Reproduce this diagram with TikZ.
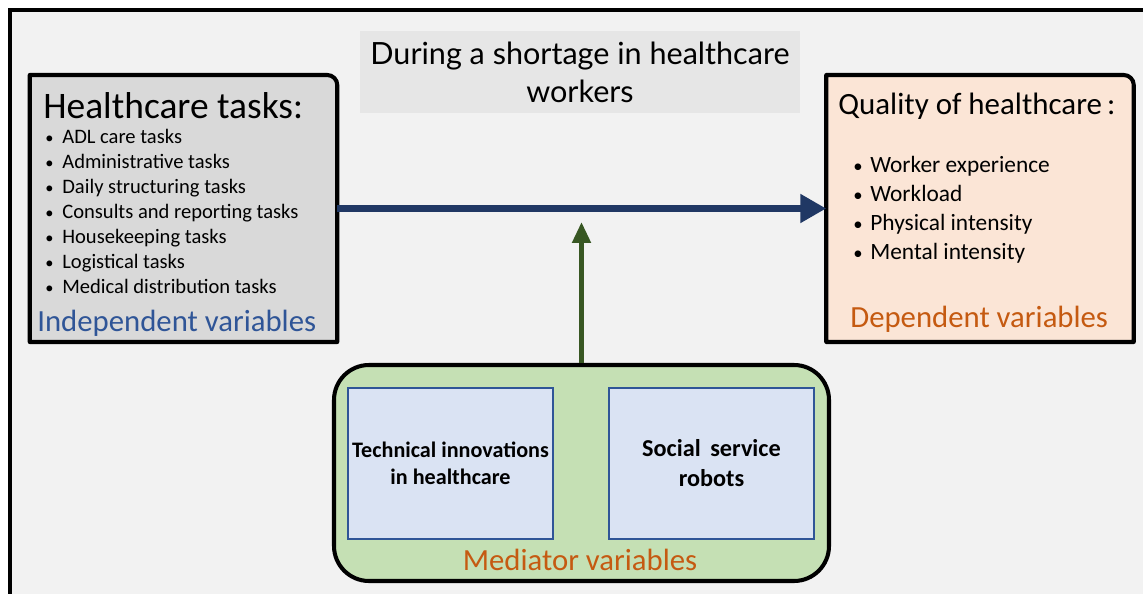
\documentclass[tikz,border=0pt]{standalone}
\usepackage{fontspec}
\setmainfont{Carlito}
\newfontfamily\titlefont{Lato}
\usetikzlibrary{arrows.meta}

\definecolor{bggray}{HTML}{F2F2F2}
\definecolor{taskgray}{HTML}{D9D9D9}
\definecolor{titlegray}{HTML}{E6E6E6}
\definecolor{qualpink}{HTML}{FBE5D6}
\definecolor{medgreen}{HTML}{C5E0B4}
\definecolor{innerfill}{HTML}{DAE3F3}
\definecolor{innerblue}{HTML}{2F5597}
\definecolor{varorange}{HTML}{C55A11}
\definecolor{arrowblue}{HTML}{203864}
\definecolor{arrowgreen}{HTML}{385723}

\newcommand{\bul}{\makebox[0.34cm][l]{\scalebox{0.8}{\textbullet}}}

\tikzset{
  panel/.style={rectangle,inner sep=0pt,outer sep=0pt,minimum width=6.15cm,minimum height=5.34cm},
  panelline/.style={line width=2.3pt,line join=round},
  tool/.style={rectangle,draw=innerblue,line width=1pt,fill=innerfill,minimum width=4.1cm,minimum height=3.02cm,align=center,inner sep=1pt},
  item/.style={anchor=west,inner sep=0pt},
  listitem/.style={anchor=base west,inner sep=0pt},
}

\begin{document}
\begin{tikzpicture}
\clip (0,0) rectangle (22.86,11.86);
\fill[white] (0,0) rectangle (22.86,11.86);
\draw[line width=2.3pt,fill=bggray] (0.2,-1) rectangle (24,11.66);

% context
\node[rectangle,fill=titlegray,minimum width=8.8cm,minimum height=1.64cm,align=center,inner sep=0pt,
  font=\titlefont\fontsize{17.4}{21.5}\selectfont] (T) at (11.6,10.42) {During a shortage in healthcare\\workers};

% independent variables
\node[panel] (L) at (3.67,7.69) {};
\filldraw[panelline,fill=taskgray] (L.south west) -- (L.north west) -- ([xshift=-0.2cm]L.north east)
  arc[start angle=90,end angle=0,radius=0.2cm] -- (L.south east) -- cycle;
\node[item,font=\fontsize{21.3}{25}\selectfont] (Lhead) at (0.86,9.74) {Healthcare tasks:};
\foreach \t [count=\i] in {ADL care tasks,Administrative tasks,Daily structuring tasks,Consults and reporting tasks,Housekeeping tasks,Logistical tasks,Medical distribution tasks}
  \node[listitem,font=\fontsize{11.7}{14}\selectfont] (Li\i) at (0.9,{9.48-0.5*\i}) {\bul\t};
\node[item,text=innerblue,font=\fontsize{17.5}{21}\selectfont] (Lfoot) at (0.74,5.4) {Independent variables};

% dependent variables
\node[panel] (R) at (19.6,7.69) {};
\filldraw[panelline,fill=qualpink] (R.south west) -- (R.north west) -- ([xshift=-0.2cm]R.north east)
  arc[start angle=90,end angle=0,radius=0.2cm] -- (R.south east) -- cycle;
\node[item,font=\fontsize{17.6}{21}\selectfont] (Rhead) at (16.76,9.74) {Quality of healthcare\,:};
\foreach \t [count=\i] in {Worker experience,Workload,Physical intensity,Mental intensity}
  \node[listitem,font=\fontsize{13.3}{16}\selectfont] (Ri\i) at (17.06,{8.98-0.58*\i}) {\bul\t};
\node[item,text=varorange,font=\fontsize{17.5}{21}\selectfont] (Rfoot) at (17.0,5.48) {Dependent variables};

% mediator variables
\node[rectangle,draw,line width=2.3pt,fill=medgreen,rounded corners=0.7cm,minimum width=9.9cm,minimum height=4.32cm,inner sep=0pt] (M) at (11.63,2.4) {};
\node[tool,font=\bfseries\fontsize{12.6}{15.3}\selectfont] (M1) at (9.01,2.59) {Technical innovations\\in healthcare};
\node[tool,font=\bfseries\fontsize{13.8}{17}\selectfont] (M2) at (14.23,2.59) {Social\, service\\robots};
\node[text=varorange,inner sep=0pt,font=\fontsize{17.5}{21}\selectfont] (Mfoot) at (11.6,0.66) {Mediator variables};

% effects
\coordinate (G) at (11.63,7.42);
\draw[arrowblue,line width=4pt,-{Triangle[length=0.52cm,width=0.55cm]}] (L.east) -- (R.west);
\draw[arrowgreen,line width=2.8pt,-{Triangle[length=0.42cm,width=0.36cm]}] (M.north) -- (G);
\end{tikzpicture}
\end{document}
